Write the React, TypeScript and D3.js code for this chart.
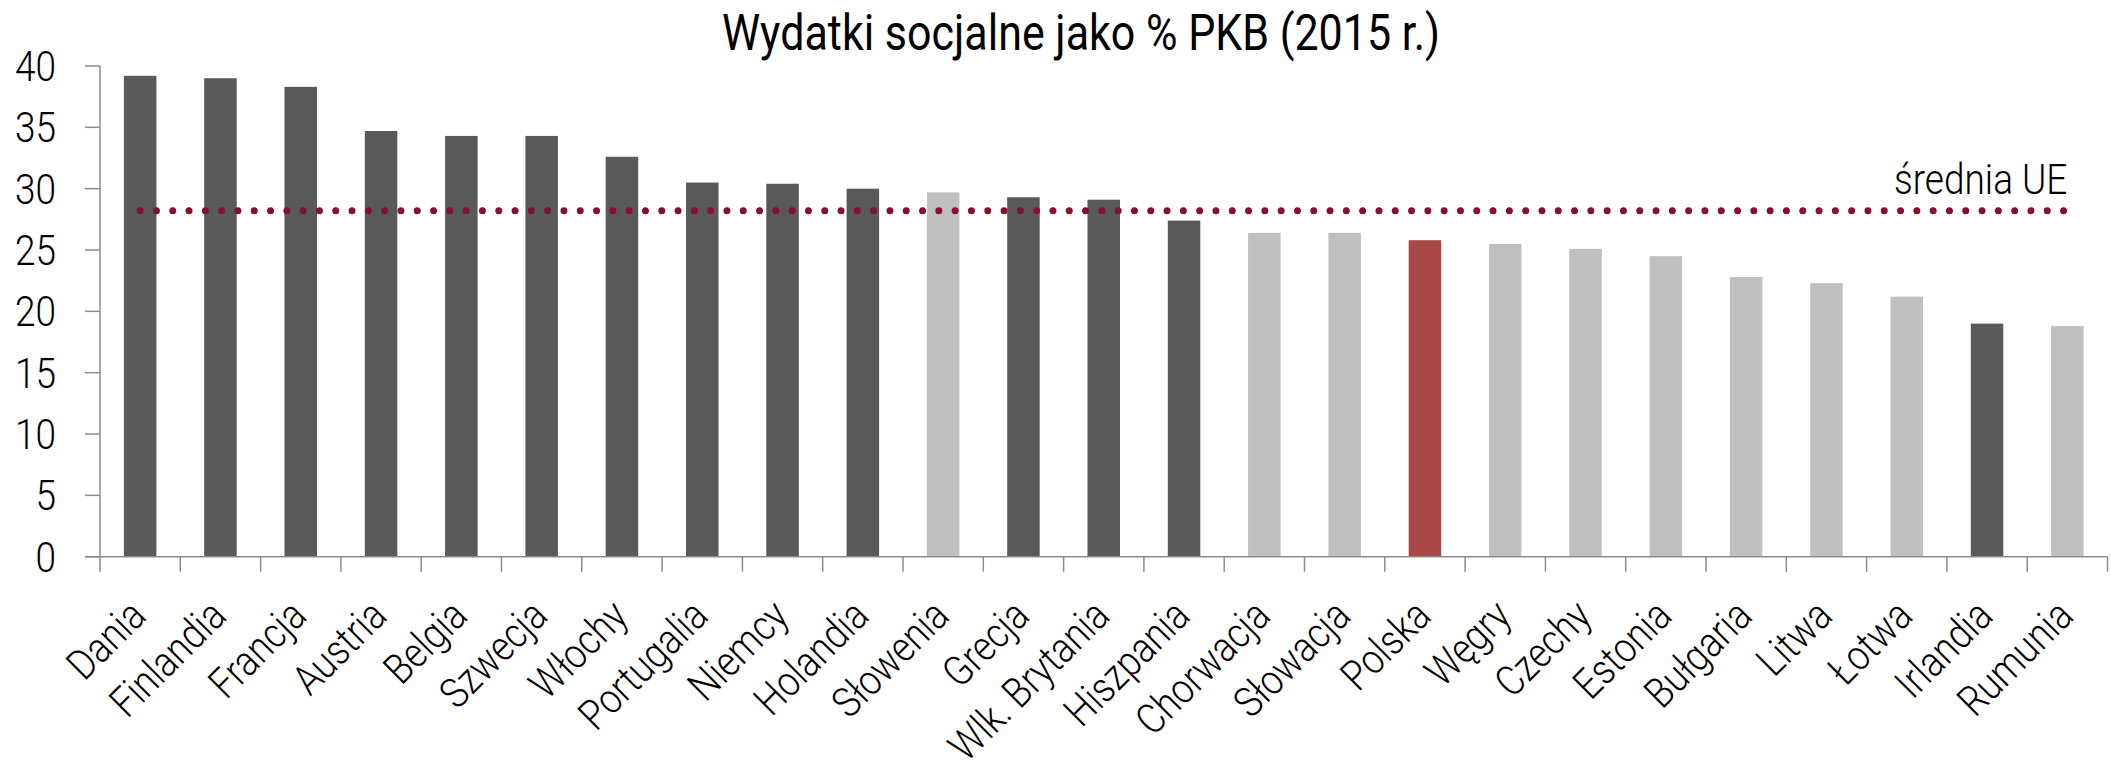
import React from 'react';
import * as d3 from 'd3';

const countries = [
  'Dania', 'Finlandia', 'Francja', 'Austria', 'Belgia', 'Szwecja', 'Włochy',
  'Portugalia', 'Niemcy', 'Holandia', 'Słowenia', 'Grecja', 'Wlk. Brytania',
  'Hiszpania', 'Chorwacja', 'Słowacja', 'Polska', 'Węgry', 'Czechy', 'Estonia',
  'Bułgaria', 'Litwa', 'Łotwa', 'Irlandia', 'Rumunia',
];
const spending = [
  39.2, 39.0, 38.3, 34.7, 34.3, 34.3, 32.6, 30.5, 30.4, 30.0, 29.7, 29.3, 29.1,
  27.4, 26.4, 26.4, 25.8, 25.5, 25.1, 24.5, 22.8, 22.3, 21.2, 19.0, 18.8,
];
// o = old member, n = new member, p = Polska
const group = [
  'o', 'o', 'o', 'o', 'o', 'o', 'o', 'o', 'o', 'o', 'n', 'o', 'o',
  'o', 'n', 'n', 'p', 'n', 'n', 'n', 'n', 'n', 'n', 'o', 'n',
];
const euAverage = 28.2;
const yTicks = [0, 5, 10, 15, 20, 25, 30, 35, 40];

const W = 2111;
const H = 764;
const left = 100;
const right = 2107.5;
const top = 66;
const bottom = 556.7;
const sx = 0.86; // condensed look

const colors: Record<string, string> = { o: '#595959', n: '#c0c0c0', p: '#a94646' };
const axisColor = '#8c8c8c';
const font = 'Roboto, sans-serif';

export default function App() {
  const x = d3.scaleBand<string>()
    .domain(countries)
    .range([left, right])
    .paddingInner(0.595)
    .paddingOuter(0.2975);
  const y = d3.scaleLinear().domain([0, 40]).range([bottom, top]);
  const step = x.step();
  const bw = x.bandwidth();
  const edge = (c: string) => (x(c) as number) - (step - bw) / 2;
  const tickXs = countries.map(edge).concat([right]);
  const cx = (c: string) => (x(c) as number) + bw / 2;

  const lineX1 = cx(countries[0]);
  const lineX2 = cx(countries[countries.length - 1]);

  return (
    <svg width={W} height={H} style={{ position: 'absolute', left: 0, top: 0, background: '#fff' }}>
      <text
        transform={`translate(${1081},${50}) scale(${sx},1)`}
        textAnchor="middle"
        fontFamily={font}
        fontSize={50}
        fill="#000"
      >
        Wydatki socjalne jako % PKB (2015 r.)
      </text>

      {countries.map((c, i) => (
        <rect
          key={c}
          x={x(c)}
          y={y(spending[i])}
          width={bw}
          height={y(0) - y(spending[i])}
          fill={colors[group[i]]}
        />
      ))}

      {/* y axis */}
      <line x1={left} x2={left} y1={top} y2={bottom} stroke={axisColor} strokeWidth={1.5} />
      {yTicks.map(t => (
        <g key={t}>
          <line x1={left - 15} x2={left} y1={y(t)} y2={y(t)} stroke={axisColor} strokeWidth={1.5} />
          <text
            transform={`translate(${56},${y(t) + 15}) scale(${sx},1)`}
            textAnchor="end"
            fontFamily={font}
            fontWeight={300}
            fontSize={43}
            fill="#000"
          >
            {t}
          </text>
        </g>
      ))}

      {/* x axis */}
      <line x1={left - 15} x2={right} y1={bottom} y2={bottom} stroke={axisColor} strokeWidth={1.5} />
      {tickXs.map((tx, i) => (
        <line key={i} x1={tx} x2={tx} y1={bottom} y2={bottom + 15} stroke={axisColor} strokeWidth={1.5} />
      ))}
      {countries.map(c => (
        <text
          key={c}
          transform={`translate(${cx(c) + 8},${618}) rotate(-45) scale(${sx},1)`}
          textAnchor="end"
          fontFamily={font}
          fontWeight={300}
          fontSize={42}
          fill="#000"
        >
          {c}
        </text>
      ))}

      {/* EU average */}
      <line
        x1={lineX1}
        x2={lineX2}
        y1={y(euAverage)}
        y2={y(euAverage)}
        stroke="#87112d"
        strokeWidth={7}
        strokeLinecap="round"
        strokeDasharray="0 16.3"
      />
      <text
        transform={`translate(${lineX2},${194}) scale(${sx},1)`}
        textAnchor="end"
        fontFamily={font}
        fontWeight={300}
        fontSize={43}
        fill="#000"
      >
        średnia UE
      </text>
    </svg>
  );
}
